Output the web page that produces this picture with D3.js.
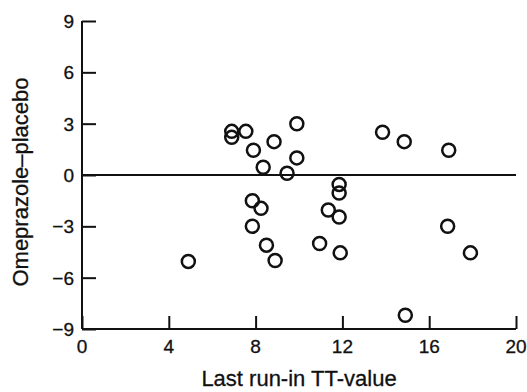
<!DOCTYPE html>
<html>
<head>
<meta charset="utf-8">
<script src="https://cdn.jsdelivr.net/npm/d3@7"></script>
<style>
  body { margin: 0; background: #fff; }
  text { font-family: "Liberation Sans", Arial, sans-serif; fill: #111; stroke: #111; stroke-width: 0.3px; }
</style>
</head>
<body>
<div id="vis"></div>
<script>
// run-in TT value vs omeprazole - placebo difference
const ttValue = [6.9, 6.9, 7.55, 9.9, 8.85, 7.9, 9.9, 8.35, 9.45, 11.85, 11.85, 7.85, 8.25, 11.35, 11.85, 7.85, 8.5, 10.95, 11.9, 8.9, 4.9, 13.85, 14.85, 16.9, 16.85, 17.9, 14.9];
const diff    = [2.55, 2.2, 2.55, 3.0, 1.95, 1.45, 1.0, 0.45, 0.1, -0.55, -1.05, -1.5, -1.95, -2.05, -2.45, -3.0, -4.1, -4.0, -4.55, -5.0, -5.05, 2.5, 1.95, 1.45, -3.0, -4.55, -8.2];
const xTicks = [0, 4, 8, 12, 16, 20];
const yTicks = [-9, -6, -3, 0, 3, 6, 9];

const data = ttValue.map((v, i) => ({x: v, y: diff[i]}));

const svg = d3.select("#vis").append("svg")
  .attr("width", 527)
  .attr("height", 392);

const x = d3.scaleLinear().domain([0, 20]).range([82, 516]);
const y = d3.scaleLinear().domain([-9, 9]).range([329, 21]);

// y axis, ticks pointing inward
const yAxis = svg.append("g")
  .attr("transform", `translate(${x(0)},0)`)
  .call(d3.axisRight(y).tickValues(yTicks).tickSize(14).tickFormat(""));
yAxis.select(".domain").remove();
yAxis.selectAll("line").attr("stroke", "#111").attr("stroke-width", 2);
svg.append("line")
  .attr("x1", x(0)).attr("x2", x(0))
  .attr("y1", y(9)).attr("y2", y(-9))
  .attr("stroke", "#111").attr("stroke-width", 2);

svg.selectAll(".ylab").data(yTicks).join("text")
  .attr("x", x(0) - 8)
  .attr("y", d => y(d) + 7)
  .attr("text-anchor", "end")
  .style("font-size", "19px")
  .text(d => d < 0 ? "\u2212" + Math.abs(d) : d);

// x axis, ticks pointing up
const xAxis = svg.append("g")
  .attr("transform", `translate(0,${y(-9)})`)
  .call(d3.axisTop(x).tickValues(xTicks).tickSize(13).tickFormat(""));
xAxis.select(".domain").remove();
xAxis.selectAll("line").attr("stroke", "#111").attr("stroke-width", 2);
svg.append("line")
  .attr("x1", x(0)).attr("x2", x(20))
  .attr("y1", y(-9)).attr("y2", y(-9))
  .attr("stroke", "#111").attr("stroke-width", 2);

svg.selectAll(".xlab").data(xTicks).join("text")
  .attr("x", d => x(d))
  .attr("y", y(-9) + 24)
  .attr("text-anchor", "middle")
  .style("font-size", "19px")
  .text(d => d);

// zero line
svg.append("line")
  .attr("x1", x(0)).attr("x2", x(20))
  .attr("y1", y(0)).attr("y2", y(0))
  .attr("stroke", "#111").attr("stroke-width", 2);

// points
svg.selectAll("circle").data(data).join("circle")
  .attr("cx", d => x(d.x))
  .attr("cy", d => y(d.y))
  .attr("r", 6.5)
  .attr("fill", "none")
  .attr("stroke", "#111")
  .attr("stroke-width", 2.5);

// axis titles
svg.append("text")
  .attr("x", x(10))
  .attr("y", 386)
  .attr("text-anchor", "middle")
  .style("font-size", "22px")
  .text("Last run-in TT-value");

svg.append("text")
  .attr("transform", `translate(28,${y(0) + 7}) rotate(-90)`)
  .attr("text-anchor", "middle")
  .style("font-size", "22px")
  .text("Omeprazole\u2013placebo");
</script>
</body>
</html>
